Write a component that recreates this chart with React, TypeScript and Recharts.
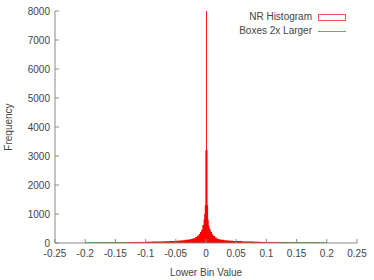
import { Area, ComposedChart, XAxis, YAxis } from 'recharts';

// lower bin edge -> count (red "NR Histogram")
const nrBins = [
  -0.2, -0.19, -0.18, -0.17, -0.16, -0.15, -0.14, -0.13, -0.12, -0.11, -0.1, -0.09, -0.08, -0.07, -0.06,
  -0.05, -0.045, -0.04, -0.035, -0.03, -0.026, -0.022, -0.018, -0.015, -0.012, -0.01, -0.008, -0.006,
  -0.004, -0.003, -0.002, -0.001, 0, 0.0015, 0.0025, 0.0035, 0.0045, 0.0055, 0.0065, 0.008, 0.01, 0.012,
  0.015, 0.018, 0.022, 0.026, 0.03, 0.035, 0.04, 0.045, 0.05, 0.06, 0.07, 0.08, 0.09, 0.1, 0.11, 0.12,
  0.13, 0.14, 0.15, 0.16, 0.17, 0.18, 0.19, 0.2,
];
const nrCounts = [
  3, 4, 5, 6, 8, 12, 18, 26, 32, 38, 44, 50, 56, 62, 70,
  80, 88, 96, 108, 122, 140, 165, 205, 250, 310, 380, 460, 620,
  820, 1000, 1300, 3200, 9500, 3200, 1300, 800, 600, 520, 460, 380, 300, 240,
  190, 150, 125, 110, 98, 88, 80, 72, 65, 56, 48, 40, 34, 28, 22, 18,
  14, 11, 9, 7, 6, 5, 4, 0,
];

// green "Boxes 2x Larger"
const bigBins = [-0.2, -0.18, -0.16, -0.14, -0.12, -0.1, -0.08, -0.06, -0.04, 0.04, 0.06, 0.08, 0.1, 0.12, 0.14, 0.16, 0.18, 0.2];
const bigCounts = [12, 14, 16, 18, 20, 22, 24, 26, 28, 26, 24, 22, 20, 18, 16, 14, 12, 0];

const xTicks = [-0.25, -0.2, -0.15, -0.1, -0.05, 0, 0.05, 0.1, 0.15, 0.2, 0.25];
const yTicks = [0, 1000, 2000, 3000, 4000, 5000, 6000, 7000, 8000];

const nrData = nrBins.map((x, i) => ({ x, y: nrCounts[i] }));
const bigData = bigBins.map((x, i) => ({ x, y: bigCounts[i] }));

const FRAME = '#8a8a8a';
const TEXT = '#444';
const FONT_FAMILY = 'Liberation Sans, Arial, sans-serif';
const FONT = { fontSize: 10, fontFamily: FONT_FAMILY, fill: TEXT };

function KeyBox() {
  return (
    <div
      style={{
        position: 'absolute',
        top: 10,
        right: 28,
        fontFamily: FONT_FAMILY,
        fontSize: 10,
        color: TEXT,
        lineHeight: '14px',
      }}
    >
      <div style={{ display: 'flex', justifyContent: 'flex-end', alignItems: 'center' }}>
        <span>NR Histogram</span>
        <span style={{ display: 'inline-block', width: 26, height: 5, border: '1px solid #ff5050', marginLeft: 6 }} />
      </div>
      <div style={{ display: 'flex', justifyContent: 'flex-end', alignItems: 'center' }}>
        <span>Boxes 2x Larger</span>
        <span style={{ display: 'inline-block', width: 28, height: 0, borderTop: '1px solid #33cc33', marginLeft: 6 }} />
      </div>
    </div>
  );
}

export default function App() {
  const fmt = (v: number) => String(v);
  return (
    <div style={{ position: 'absolute', left: 0, top: 0, width: 374, height: 280, background: '#fff' }}>
      <ComposedChart width={374} height={280} margin={{ top: 11, right: 17, bottom: 0, left: 0 }}>
        <XAxis
          xAxisId="b"
          type="number"
          dataKey="x"
          domain={[-0.25, 0.25]}
          ticks={xTicks}
          tickFormatter={fmt}
          height={37}
          stroke={FRAME}
          tickSize={-4}
          tickMargin={11}
          tick={FONT}
          allowDataOverflow
          label={{ value: 'Lower Bin Value', position: 'insideBottom', offset: 4, style: FONT }}
        />
        <XAxis
          xAxisId="t"
          orientation="top"
          type="number"
          dataKey="x"
          domain={[-0.25, 0.25]}
          ticks={xTicks}
          height={0}
          stroke={FRAME}
          tickSize={-4}
          tick={false}
        />
        <YAxis
          yAxisId="l"
          type="number"
          domain={[0, 8000]}
          ticks={yTicks}
          width={55}
          stroke={FRAME}
          tickSize={-4}
          tickMargin={9}
          tick={FONT}
          allowDataOverflow
          label={{ value: 'Frequency', angle: -90, position: 'insideLeft', offset: 8, style: { ...FONT, textAnchor: 'middle' } }}
        />
        <YAxis
          yAxisId="r"
          orientation="right"
          type="number"
          domain={[0, 8000]}
          ticks={yTicks}
          width={0}
          stroke={FRAME}
          tickSize={-4}
          tick={false}
        />
        <Area
          xAxisId="b"
          yAxisId="l"
          data={bigData}
          dataKey="y"
          type="stepAfter"
          stroke="#00c000"
          strokeWidth={1}
          fill="none"
          isAnimationActive={false}
        />
        <Area
          xAxisId="b"
          yAxisId="l"
          data={nrData}
          dataKey="y"
          type="stepAfter"
          stroke="none"
          fill="#ff0000"
          fillOpacity={1}
          baseValue={0}
          isAnimationActive={false}
        />
      </ComposedChart>
      <KeyBox />
    </div>
  );
}
